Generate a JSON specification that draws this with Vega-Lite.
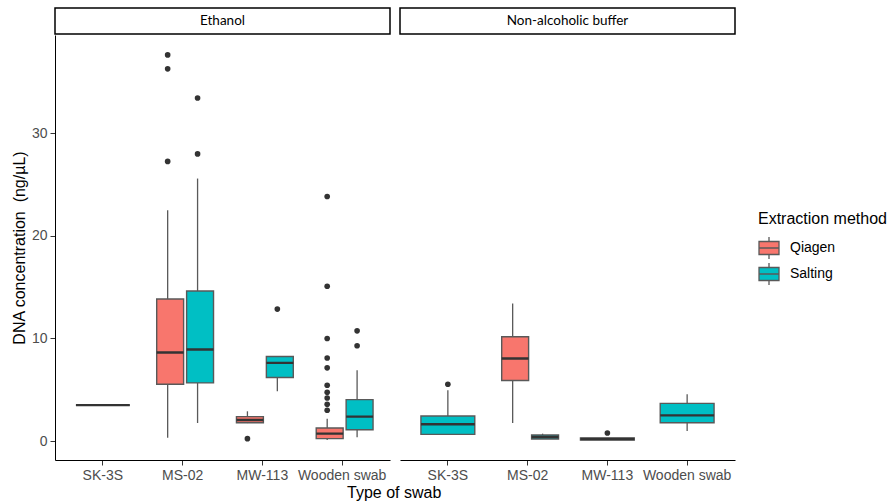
{
  "$schema": "https://vega.github.io/schema/vega-lite/v6.json",
  "padding": {"left": 11, "top": 7, "right": 0, "bottom": 0},
  "background": "white",
  "title": {"text": "Type of swab", "orient": "bottom", "anchor": "middle", "frame": "bounds", "dx": -55, "offset": 3, "font": "Liberation Sans", "fontSize": 16, "fontWeight": "normal", "color": "black"},
  "datasets": {
    "rows": [
      {"buffer": "Ethanol", "swab": "SK-3S", "method": "Qiagen", "lo": 3.5, "q1": 3.5, "med": 3.5, "q3": 3.5, "hi": 3.5},
      {"buffer": "Ethanol", "swab": "MS-02", "method": "Qiagen", "lo": 0.33, "q1": 5.54, "med": 8.63, "q3": 13.85, "hi": 22.5},
      {"buffer": "Ethanol", "swab": "MS-02", "method": "Salting", "lo": 1.76, "q1": 5.67, "med": 8.93, "q3": 14.63, "hi": 25.6},
      {"buffer": "Ethanol", "swab": "MW-113", "method": "Qiagen", "lo": 1.75, "q1": 1.79, "med": 2.05, "q3": 2.38, "hi": 2.9},
      {"buffer": "Ethanol", "swab": "MW-113", "method": "Salting", "lo": 4.86, "q1": 6.19, "med": 7.62, "q3": 8.24, "hi": 8.24},
      {"buffer": "Ethanol", "swab": "Wooden swab", "method": "Qiagen", "lo": 0.1, "q1": 0.23, "med": 0.72, "q3": 1.27, "hi": 2.18},
      {"buffer": "Ethanol", "swab": "Wooden swab", "method": "Salting", "lo": 0.36, "q1": 1.1, "med": 2.38, "q3": 4.04, "hi": 6.91},
      {"buffer": "Ethanol", "swab": "MS-02", "method": "Qiagen", "out": 37.66},
      {"buffer": "Ethanol", "swab": "MS-02", "method": "Qiagen", "out": 36.3},
      {"buffer": "Ethanol", "swab": "MS-02", "method": "Qiagen", "out": 27.27},
      {"buffer": "Ethanol", "swab": "MS-02", "method": "Salting", "out": 33.46},
      {"buffer": "Ethanol", "swab": "MS-02", "method": "Salting", "out": 28.0},
      {"buffer": "Ethanol", "swab": "MW-113", "method": "Qiagen", "out": 0.23},
      {"buffer": "Ethanol", "swab": "MW-113", "method": "Salting", "out": 12.87},
      {"buffer": "Ethanol", "swab": "Wooden swab", "method": "Qiagen", "out": 23.85},
      {"buffer": "Ethanol", "swab": "Wooden swab", "method": "Qiagen", "out": 15.1},
      {"buffer": "Ethanol", "swab": "Wooden swab", "method": "Qiagen", "out": 10.0},
      {"buffer": "Ethanol", "swab": "Wooden swab", "method": "Qiagen", "out": 8.1},
      {"buffer": "Ethanol", "swab": "Wooden swab", "method": "Qiagen", "out": 7.14},
      {"buffer": "Ethanol", "swab": "Wooden swab", "method": "Qiagen", "out": 5.44},
      {"buffer": "Ethanol", "swab": "Wooden swab", "method": "Qiagen", "out": 4.75},
      {"buffer": "Ethanol", "swab": "Wooden swab", "method": "Qiagen", "out": 4.2},
      {"buffer": "Ethanol", "swab": "Wooden swab", "method": "Qiagen", "out": 3.58},
      {"buffer": "Ethanol", "swab": "Wooden swab", "method": "Qiagen", "out": 3.0},
      {"buffer": "Ethanol", "swab": "Wooden swab", "method": "Salting", "out": 10.75},
      {"buffer": "Ethanol", "swab": "Wooden swab", "method": "Salting", "out": 9.29},
      {"buffer": "Non-alcoholic buffer", "swab": "SK-3S", "method": "Salting", "lo": 0.65, "q1": 0.65, "med": 1.63, "q3": 2.44, "hi": 4.96},
      {"buffer": "Non-alcoholic buffer", "swab": "MS-02", "method": "Qiagen", "lo": 1.76, "q1": 5.9, "med": 8.05, "q3": 10.17, "hi": 13.42},
      {"buffer": "Non-alcoholic buffer", "swab": "MS-02", "method": "Salting", "lo": 0.2, "q1": 0.2, "med": 0.39, "q3": 0.59, "hi": 0.72},
      {"buffer": "Non-alcoholic buffer", "swab": "MW-113", "method": "Salting", "lo": 0.1, "q1": 0.1, "med": 0.2, "q3": 0.3, "hi": 0.3},
      {"buffer": "Non-alcoholic buffer", "swab": "Wooden swab", "method": "Salting", "lo": 0.98, "q1": 1.79, "med": 2.5, "q3": 3.67, "hi": 4.56},
      {"buffer": "Non-alcoholic buffer", "swab": "SK-3S", "method": "Salting", "out": 5.54},
      {"buffer": "Non-alcoholic buffer", "swab": "MW-113", "method": "Salting", "out": 0.78}
    ]
  },
  "spacing": 8,
  "resolve": {"scale": {"fill": "shared"}, "legend": {"fill": "shared"}},
  "hconcat": [
    {
      "spacing": 0,
      "resolve": {"scale": {"fill": "shared"}, "legend": {"fill": "shared"}},
      "vconcat": [
        {
          "width": 335, "height": 26,
          "data": {"values": [{"label": "Ethanol"}]},
          "view": {"stroke": "black", "strokeWidth": 1.5, "fill": "white"},
          "mark": {"type": "text", "font": "Lato", "fontSize": 13.5, "color": "black"},
          "encoding": {"text": {"field": "label", "type": "nominal"}}
        },
        {
          "width": 335, "height": 425,
          "data": {"name": "rows"},
          "transform": [
            {"filter": "datum.buffer === 'Ethanol'"},
            {"joinaggregate": [{"op": "distinct", "field": "method", "as": "n"}], "groupby": ["swab"]}
          ],
          "encoding": {
            "x": {"field": "swab", "type": "nominal",
              "scale": {"domain": ["SK-3S", "MS-02", "MW-113", "Wooden swab"], "paddingInner": 0, "paddingOuter": 0.1},
              "axis": {"title": null, "labelAngle": 0}}
          },
          "layer": [
            {
              "transform": [{"filter": "datum.n == 2 && isValid(datum.q1)"}],
              "mark": {"type": "rule", "color": "#595959", "strokeWidth": 1.3},
              "encoding": {
                "xOffset": {"field": "method", "type": "nominal", "scale": {"domain": ["Qiagen", "Salting"], "paddingInner": 0, "paddingOuter": 0.3333}},
                "y": {"field": "lo", "type": "quantitative", "title": "DNA concentration\u00a0 (ng/µL)", "scale": {"domain": [-1.85, 39.6], "nice": false, "zero": false}, "axis": {"values": [0, 10, 20, 30]}},
                "y2": {"field": "hi"}
              }
            },
            {
              "transform": [{"filter": "datum.n == 1 && isValid(datum.q1)"}],
              "mark": {"type": "rule", "color": "#595959", "strokeWidth": 1.3},
              "encoding": {
                "y": {"field": "lo", "type": "quantitative", "title": "DNA concentration\u00a0 (ng/µL)", "scale": {"domain": [-1.85, 39.6], "nice": false, "zero": false}, "axis": {"values": [0, 10, 20, 30]}},
                "y2": {"field": "hi"}
              }
            },
            {
              "transform": [{"filter": "datum.n == 2 && isValid(datum.q1)"}],
              "mark": {"type": "bar", "stroke": "#595959", "strokeWidth": 1.4, "width": {"band": 0.9}},
              "encoding": {
                "xOffset": {"field": "method", "type": "nominal", "scale": {"domain": ["Qiagen", "Salting"], "paddingInner": 0, "paddingOuter": 0.3333}},
                "y": {"field": "q1", "type": "quantitative", "title": "DNA concentration\u00a0 (ng/µL)", "scale": {"domain": [-1.85, 39.6], "nice": false, "zero": false}, "axis": {"values": [0, 10, 20, 30]}},
                "y2": {"field": "q3"},
                "fill": {"field": "method", "type": "nominal", "title": "Extraction method", "scale": {"domain": ["Qiagen", "Salting"], "range": ["#F8766D", "#00BFC4"]}}
              }
            },
            {
              "transform": [{"filter": "datum.n == 1 && isValid(datum.q1)"}],
              "mark": {"type": "bar", "stroke": "#595959", "strokeWidth": 1.4, "width": {"band": 0.675}},
              "encoding": {
                "y": {"field": "q1", "type": "quantitative", "title": "DNA concentration\u00a0 (ng/µL)", "scale": {"domain": [-1.85, 39.6], "nice": false, "zero": false}, "axis": {"values": [0, 10, 20, 30]}},
                "y2": {"field": "q3"},
                "fill": {"field": "method", "type": "nominal", "title": "Extraction method", "scale": {"domain": ["Qiagen", "Salting"], "range": ["#F8766D", "#00BFC4"]}}
              }
            },
            {
              "transform": [{"filter": "datum.n == 2 && isValid(datum.q1)"}],
              "mark": {"type": "bar", "stroke": "#333333", "strokeWidth": 2.4, "fillOpacity": 0, "width": {"band": 0.9}},
              "encoding": {
                "xOffset": {"field": "method", "type": "nominal", "scale": {"domain": ["Qiagen", "Salting"], "paddingInner": 0, "paddingOuter": 0.3333}},
                "y": {"field": "med", "type": "quantitative", "title": "DNA concentration\u00a0 (ng/µL)", "scale": {"domain": [-1.85, 39.6], "nice": false, "zero": false}, "axis": {"values": [0, 10, 20, 30]}},
                "y2": {"field": "med"}
              }
            },
            {
              "transform": [{"filter": "datum.n == 1 && isValid(datum.q1)"}],
              "mark": {"type": "bar", "stroke": "#333333", "strokeWidth": 2.4, "fillOpacity": 0, "width": {"band": 0.675}},
              "encoding": {
                "y": {"field": "med", "type": "quantitative", "title": "DNA concentration\u00a0 (ng/µL)", "scale": {"domain": [-1.85, 39.6], "nice": false, "zero": false}, "axis": {"values": [0, 10, 20, 30]}},
                "y2": {"field": "med"}
              }
            },
            {
              "transform": [{"filter": "datum.n == 2 && isValid(datum.out)"}],
              "mark": {"type": "circle", "color": "#333333", "opacity": 1, "size": 32},
              "encoding": {
                "xOffset": {"field": "method", "type": "nominal", "scale": {"domain": ["Qiagen", "Salting"], "paddingInner": 0, "paddingOuter": 0.3333}},
                "y": {"field": "out", "type": "quantitative", "title": "DNA concentration\u00a0 (ng/µL)", "scale": {"domain": [-1.85, 39.6], "nice": false, "zero": false}, "axis": {"values": [0, 10, 20, 30]}}
              }
            },
            {
              "transform": [{"filter": "datum.n == 1 && isValid(datum.out)"}],
              "mark": {"type": "circle", "color": "#333333", "opacity": 1, "size": 32},
              "encoding": {
                "y": {"field": "out", "type": "quantitative", "title": "DNA concentration\u00a0 (ng/µL)", "scale": {"domain": [-1.85, 39.6], "nice": false, "zero": false}, "axis": {"values": [0, 10, 20, 30]}}
              }
            }
          ]
        }
      ]
    },
    {
      "spacing": 0,
      "resolve": {"scale": {"fill": "shared"}, "legend": {"fill": "shared"}},
      "vconcat": [
        {
          "width": 335, "height": 26,
          "data": {"values": [{"label": "Non-alcoholic buffer"}]},
          "view": {"stroke": "black", "strokeWidth": 1.5, "fill": "white"},
          "mark": {"type": "text", "font": "Lato", "fontSize": 13.5, "color": "black"},
          "encoding": {"text": {"field": "label", "type": "nominal"}}
        },
        {
          "width": 335, "height": 425,
          "data": {"name": "rows"},
          "transform": [
            {"filter": "datum.buffer === 'Non-alcoholic buffer'"},
            {"joinaggregate": [{"op": "distinct", "field": "method", "as": "n"}], "groupby": ["swab"]}
          ],
          "encoding": {
            "x": {"field": "swab", "type": "nominal",
              "scale": {"domain": ["SK-3S", "MS-02", "MW-113", "Wooden swab"], "paddingInner": 0, "paddingOuter": 0.1},
              "axis": {"title": null, "labelAngle": 0}}
          },
          "layer": [
            {
              "transform": [{"filter": "datum.n == 2 && isValid(datum.q1)"}],
              "mark": {"type": "rule", "color": "#595959", "strokeWidth": 1.3},
              "encoding": {
                "xOffset": {"field": "method", "type": "nominal", "scale": {"domain": ["Qiagen", "Salting"], "paddingInner": 0, "paddingOuter": 0.3333}},
                "y": {"field": "lo", "type": "quantitative", "scale": {"domain": [-1.85, 39.6], "nice": false, "zero": false}, "axis": null},
                "y2": {"field": "hi"}
              }
            },
            {
              "transform": [{"filter": "datum.n == 1 && isValid(datum.q1)"}],
              "mark": {"type": "rule", "color": "#595959", "strokeWidth": 1.3},
              "encoding": {
                "y": {"field": "lo", "type": "quantitative", "scale": {"domain": [-1.85, 39.6], "nice": false, "zero": false}, "axis": null},
                "y2": {"field": "hi"}
              }
            },
            {
              "transform": [{"filter": "datum.n == 2 && isValid(datum.q1)"}],
              "mark": {"type": "bar", "stroke": "#595959", "strokeWidth": 1.4, "width": {"band": 0.9}},
              "encoding": {
                "xOffset": {"field": "method", "type": "nominal", "scale": {"domain": ["Qiagen", "Salting"], "paddingInner": 0, "paddingOuter": 0.3333}},
                "y": {"field": "q1", "type": "quantitative", "scale": {"domain": [-1.85, 39.6], "nice": false, "zero": false}, "axis": null},
                "y2": {"field": "q3"},
                "fill": {"field": "method", "type": "nominal", "title": "Extraction method", "scale": {"domain": ["Qiagen", "Salting"], "range": ["#F8766D", "#00BFC4"]}}
              }
            },
            {
              "transform": [{"filter": "datum.n == 1 && isValid(datum.q1)"}],
              "mark": {"type": "bar", "stroke": "#595959", "strokeWidth": 1.4, "width": {"band": 0.675}},
              "encoding": {
                "y": {"field": "q1", "type": "quantitative", "scale": {"domain": [-1.85, 39.6], "nice": false, "zero": false}, "axis": null},
                "y2": {"field": "q3"},
                "fill": {"field": "method", "type": "nominal", "title": "Extraction method", "scale": {"domain": ["Qiagen", "Salting"], "range": ["#F8766D", "#00BFC4"]}}
              }
            },
            {
              "transform": [{"filter": "datum.n == 2 && isValid(datum.q1)"}],
              "mark": {"type": "bar", "stroke": "#333333", "strokeWidth": 2.4, "fillOpacity": 0, "width": {"band": 0.9}},
              "encoding": {
                "xOffset": {"field": "method", "type": "nominal", "scale": {"domain": ["Qiagen", "Salting"], "paddingInner": 0, "paddingOuter": 0.3333}},
                "y": {"field": "med", "type": "quantitative", "scale": {"domain": [-1.85, 39.6], "nice": false, "zero": false}, "axis": null},
                "y2": {"field": "med"}
              }
            },
            {
              "transform": [{"filter": "datum.n == 1 && isValid(datum.q1)"}],
              "mark": {"type": "bar", "stroke": "#333333", "strokeWidth": 2.4, "fillOpacity": 0, "width": {"band": 0.675}},
              "encoding": {
                "y": {"field": "med", "type": "quantitative", "scale": {"domain": [-1.85, 39.6], "nice": false, "zero": false}, "axis": null},
                "y2": {"field": "med"}
              }
            },
            {
              "transform": [{"filter": "datum.n == 2 && isValid(datum.out)"}],
              "mark": {"type": "circle", "color": "#333333", "opacity": 1, "size": 32},
              "encoding": {
                "xOffset": {"field": "method", "type": "nominal", "scale": {"domain": ["Qiagen", "Salting"], "paddingInner": 0, "paddingOuter": 0.3333}},
                "y": {"field": "out", "type": "quantitative", "scale": {"domain": [-1.85, 39.6], "nice": false, "zero": false}, "axis": null}
              }
            },
            {
              "transform": [{"filter": "datum.n == 1 && isValid(datum.out)"}],
              "mark": {"type": "circle", "color": "#333333", "opacity": 1, "size": 32},
              "encoding": {
                "y": {"field": "out", "type": "quantitative", "scale": {"domain": [-1.85, 39.6], "nice": false, "zero": false}, "axis": null}
              }
            }
          ]
        }
      ]
    }
  ],
  "config": {
    "view": {"stroke": null},
    "font": "Liberation Sans",
    "axis": {
      "grid": false,
      "domainColor": "black",
      "domainWidth": 1,
      "tickColor": "#333333",
      "tickSize": 5,
      "labelPadding": 3,
      "labelColor": "#4D4D4D",
      "labelFont": "Liberation Sans",
      "labelFontSize": 14,
      "titleFont": "Liberation Sans",
      "titleFontSize": 16,
      "titleFontWeight": "normal",
      "titleColor": "black",
      "titlePadding": 4
    },
    "legend": {
      "orient": "none",
      "legendX": 703,
      "legendY": 203,
      "titleFont": "Liberation Sans",
      "titleFontSize": 16,
      "titleFontWeight": "normal",
      "titleColor": "black",
      "titlePadding": 10,
      "labelFont": "Liberation Sans",
      "labelFontSize": 14,
      "labelColor": "black",
      "labelOffset": 10,
      "symbolType": "M-1,-0.65H1V0.65H-1Z M-1,0H1 M0,-0.65V-1.1 M0,0.65V1.1",
      "symbolSize": 400,
      "symbolStrokeColor": "#595959",
      "symbolStrokeWidth": 1.3,
      "symbolOpacity": 1,
      "rowPadding": -2
    }
  }
}
